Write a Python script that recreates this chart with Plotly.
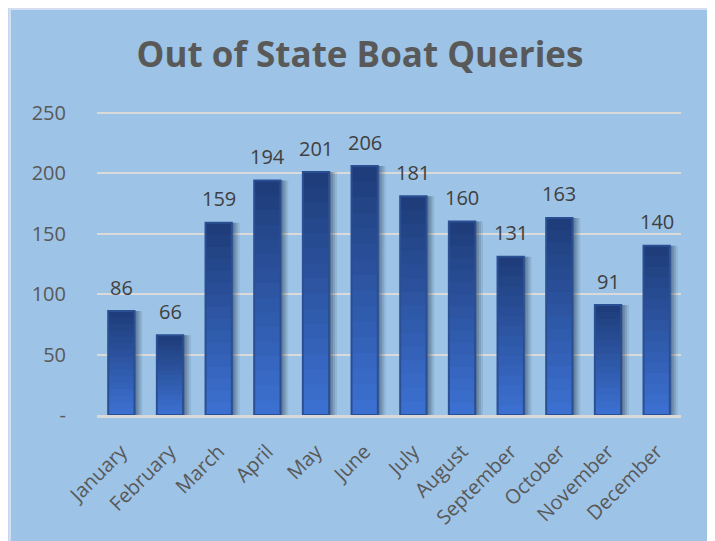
import plotly.graph_objects as go

months = ["January", "February", "March", "April", "May", "June", "July",
          "August", "September", "October", "November", "December"]
queries = [86, 66, 159, 194, 201, 206, 181, 160, 131, 163, 91, 140]
tick_vals = [0, 50, 100, 150, 200, 250]
tick_text = ["-", "50", "100", "150", "200", "250"]

TOP = (0x1f, 0x3d, 0x7a)
BOT = (0x3c, 0x70, 0xd0)
N = 16
BW = 0.54

W, H = 707, 533
L, R, T, B = 89, 34, 103, 126
PW, PH = W - L - R, H - T - B

fig = go.Figure()
# soft shadow to the right of each bar
for off, a in [(0.16, 0.10), (0.12, 0.14), (0.08, 0.18), (0.04, 0.22)]:
    fig.add_trace(go.Bar(
        x=months, y=queries, width=BW, offset=-BW / 2 + off,
        marker=dict(color="rgba(30,45,70,%.2f)" % a, line=dict(width=0)),
        hoverinfo="skip", showlegend=False,
    ))
for k in range(N, 0, -1):
    t = (k - 1) / (N - 1)
    c = tuple(round(BOT[i] + (TOP[i] - BOT[i]) * t) for i in range(3))
    fig.add_trace(go.Bar(
        x=months, y=[v * k / N for v in queries], width=BW, offset=-BW / 2,
        marker=dict(color="rgb(%d,%d,%d)" % c, line=dict(width=0)),
        hoverinfo="skip", showlegend=False,
    ))
fig.add_trace(go.Bar(
    x=months, y=queries, width=BW, offset=-BW / 2,
    marker=dict(color="rgba(0,0,0,0)", line=dict(color="#2b4f93", width=2)),
    showlegend=False,
))

annotations = [dict(x=m, y=v, text=str(v), showarrow=False, yanchor="middle",
                    yshift=24, font=dict(family="Open Sans", size=20, color="#404040"))
               for m, v in zip(months, queries)]

fig.update_layout(
    width=W, height=H,
    barmode="overlay",
    paper_bgcolor="#c6d7f4", plot_bgcolor="rgba(0,0,0,0)",
    margin=dict(l=L, r=R, t=T, b=B),
    title=dict(text="<b>Out of State Boat Queries</b>", x=(360 - 8) / W, xanchor="center",
               y=1 - 47 / H, yanchor="middle",
               font=dict(family="Open Sans", size=35, color="#595959")),
    font=dict(family="Open Sans", color="#595959"),
    annotations=annotations,
    shapes=[dict(type="rect", xref="paper", yref="paper",
                 x0=(2 - L) / PW, x1=(701 - L) / PW,
                 y0=-0.6, y1=(H - B - 1) / PH,
                 fillcolor="#9dc3e6", line=dict(color="#d3def0", width=2),
                 layer="below")],
)
fig.update_xaxes(tickangle=-45, tickfont=dict(size=20, color="#595959"),
                 showgrid=False, showline=True, linecolor="#d9d9d9", linewidth=3,
                 ticks="outside", ticklen=14, tickcolor="rgba(0,0,0,0)")
fig.update_yaxes(range=[0, 251.5], tickvals=tick_vals, ticktext=tick_text,
                 tickfont=dict(size=20, color="#595959"),
                 showgrid=True, gridcolor="#dadada", gridwidth=2,
                 zeroline=False, showline=False,
                 ticks="outside", ticklen=26, tickcolor="rgba(0,0,0,0)")

fig.write_html("out.html")
